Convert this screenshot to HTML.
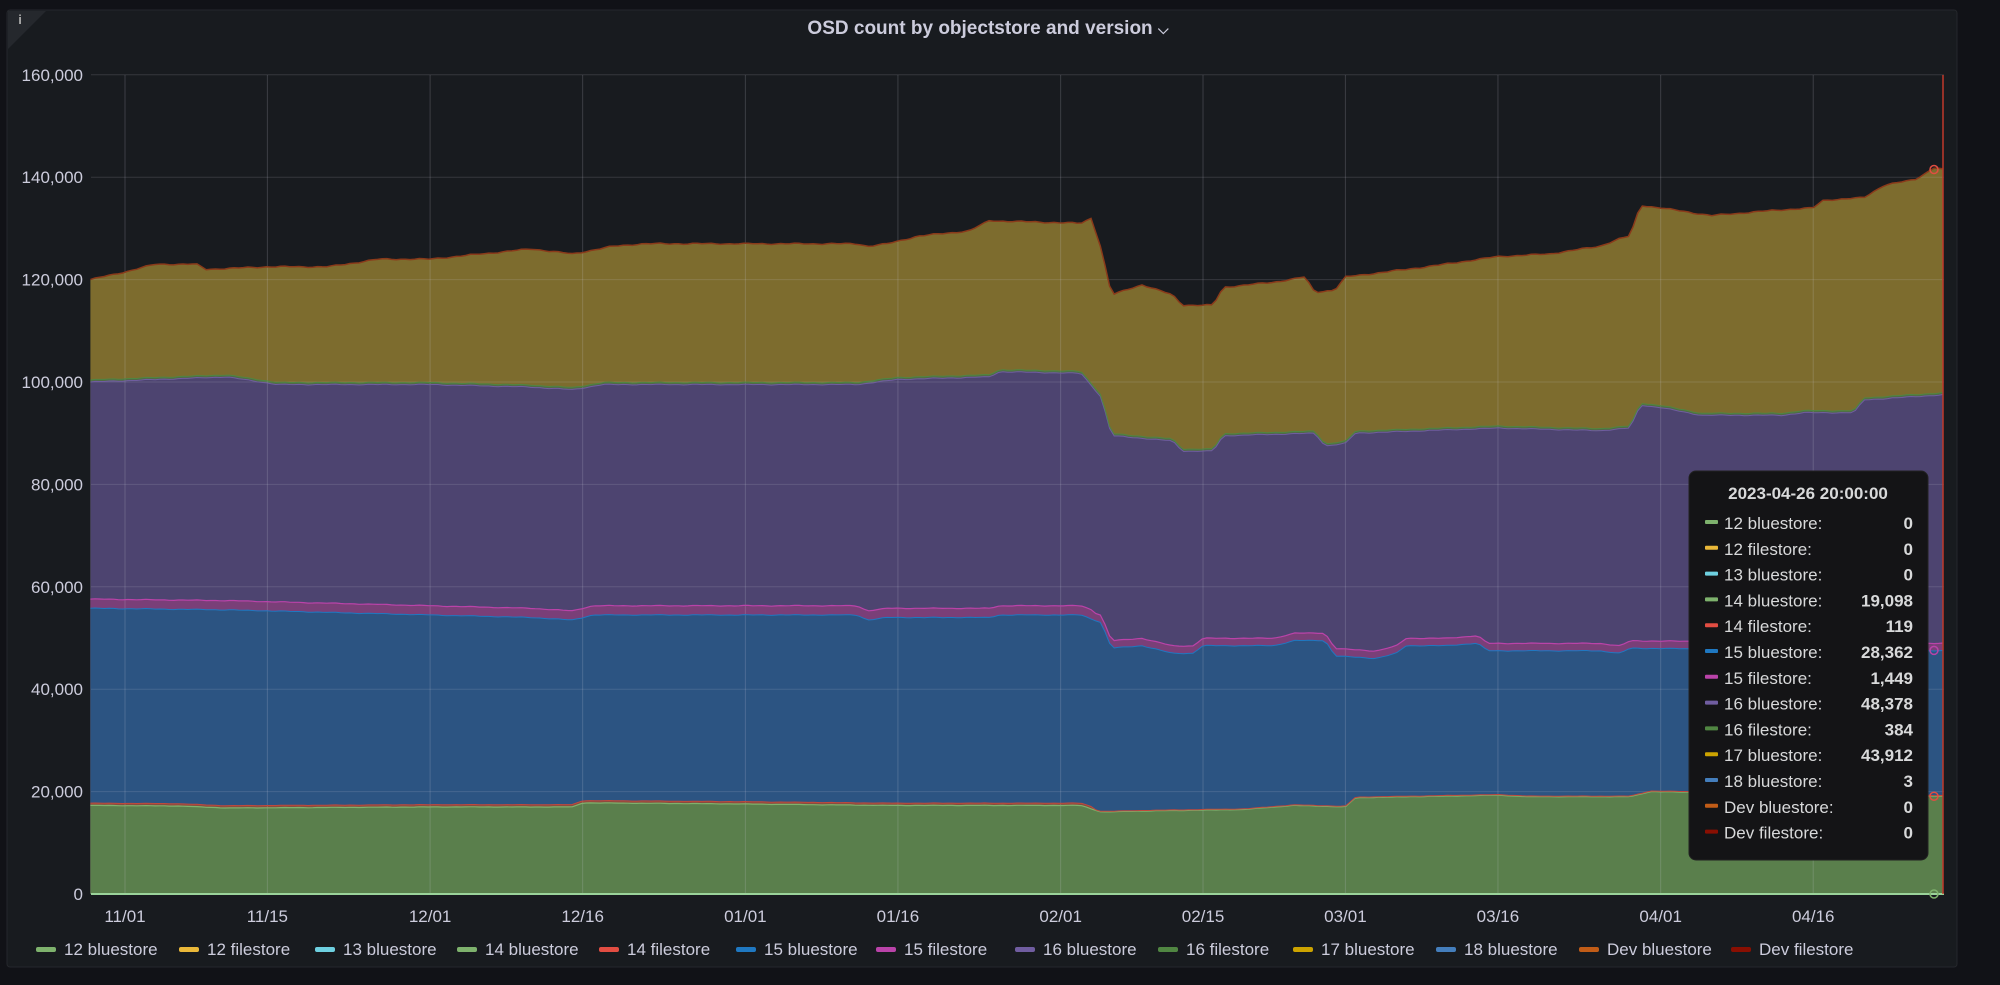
<!DOCTYPE html>
<html><head><meta charset="utf-8"><style>
body{margin:0;background:#111217;width:2000px;height:985px;overflow:hidden;font-family:"Liberation Sans",sans-serif}
svg{position:absolute;left:0;top:0}
</style></head><body>
<svg id="s" width="2000" height="985" xmlns="http://www.w3.org/2000/svg" font-family="Liberation Sans, sans-serif">
<rect x="7" y="10" width="1950" height="957" rx="3" fill="#181b1f" stroke="#25272c"/>
<path d="M8 11 L46 11 L8 49 Z" fill="#25282d"/>
<text x="20" y="24" fill="#aaa" font-size="13" font-weight="bold" text-anchor="middle">i</text>
<text x="988" y="34" fill="#ccccdc" font-size="19" font-weight="bold" text-anchor="middle">OSD count by objectstore and version <tspan font-size="14">⌵</tspan></text>
<g id="plot"></g>
</svg>
<script>
(function(){
var NS="http://www.w3.org/2000/svg";
var g=document.getElementById('plot');
function X(d){return 125+d*10.17;}
function Y(v){return 894-v/20000*102.4;}
function mk(t,a){var e=document.createElementNS(NS,t);for(var k in a)e.setAttribute(k,a[k]);g.appendChild(e);return e;}
function interp(kp,d){for(var i=0;i<kp.length-1;i++){if(d>=kp[i][0]&&d<=kp[i+1][0]){var t=(d-kp[i][0])/(kp[i+1][0]-kp[i][0]);return kp[i][1]+t*(kp[i+1][1]-kp[i][1]);}}return kp[kp.length-1][1];}
var D0=-3.4,D1=178.8,N=400;
var ds=[];for(var i=0;i<=N;i++)ds.push(D0+(D1-D0)*i/N);
function noise(i,a){return a*(Math.sin(i*1.7)*0.5+Math.sin(i*0.63)*0.5);}
var sTopKp=[[-3.4,120000],[0,121500],[3,123000],[7,123000],[8,122000],[14,122500],[20,122500],[25,124000],[30,124000],[35,125000],[40,126000],[44,125000],[48,126500],[51,127000],[61,127000],[72,127000],[73,126500],[75,127000],[78,128500],[83,129500],[85,131500],[94,131000],[95,132000],[96,126000],[97,117000],[100,119000],[103,117000],[104,115000],[107,115000],[108,118500],[113,119500],[116,120500],[117,117500],[119,118000],[120,120500],[128,122500],[135,124500],[140,125000],[145,126500],[147,128000],[148,128500],[149,134500],[151,134000],[156,132500],[162,133500],[166,134000],[167,135500],[171,136000],[173,138500],[176,139500],[178,142000],[178.8,141500]];
var b16=[[-3.4,100000],[10,101000],[15,99500],[30,99500],[40,99000],[44,98500],[47,99500],[72,99500],[76,100500],[85,101000],[86,102000],[94,101700],[96,97000],[97,89500],[103,88500],[104,86500],[107,86500],[108,89500],[117,90000],[118,87500],[120,88000],[121,90000],[135,91000],[145,90500],[148,91000],[149,95500],[151,95000],[155,93500],[163,93500],[165,94000],[170,94000],[171,96500],[178.8,97500]];
var b15=[[-3.4,55800],[10,55500],[20,55000],[30,54500],[40,54000],[44,53500],[46,54500],[72,54500],[73,53500],[75,54000],[85,54000],[86,54500],[94,54500],[96,53000],[97,48000],[100,48500],[103,47000],[105,47000],[106,48500],[113,48500],[115,49500],[118,49500],[119,46500],[123,46000],[125,47000],[126,48500],[130,48500],[133,49000],[134,47500],[145,47500],[147,47000],[148,48000],[178.8,47500]];
var b14=[[-3.4,17300],[5,17200],[10,16800],[30,17000],[44,17000],[45,17800],[60,17600],[75,17300],[94,17300],[96,16000],[100,16200],[110,16500],[115,17300],[120,17000],[121,18800],[135,19300],[138,19000],[148,19000],[150,20000],[178.8,19100]];
function series(kp,amp){return ds.map(function(d,i){return interp(kp,d)+noise(i,amp);});}
var sTop=series(sTopKp,150),s16=series(b16,100),s15=series(b15,80),s14=series(b14,40);
var s14f=s14.map(function(v,i){return v+(ds[i]<95?450:120);});
var s15f=s15.map(function(v,i){return v+(ds[i]<95?1800:1450);});
var s16f=s16.map(function(v){return v+400;});
function area(arr,fill){var p='M'+X(D0)+' '+Y(0);arr.forEach(function(v,i){p+=' L'+X(ds[i]).toFixed(1)+' '+Y(v).toFixed(1);});p+=' L'+X(D1)+' '+Y(0)+'Z';mk('path',{d:p,fill:fill});}
function line(arr,col,w){var p='';arr.forEach(function(v,i){p+=(i?' L':'M')+X(ds[i]).toFixed(1)+' '+Y(v).toFixed(1);});mk('path',{d:p,fill:'none',stroke:col,'stroke-width':w||1.5});}
area(sTop,'#7d6c2e');area(s16f,'#4f6a46');area(s16,'#4d4470');area(s15f,'#7a3f78');area(s15,'#2c5482');area(s14f,'#8a4b3e');area(s14,'#5a7f4c');
var labs=['0','20,000','40,000','60,000','80,000','100,000','120,000','140,000','160,000'];
for(var k=0;k<=8;k++){var y=Y(k*20000);mk('line',{x1:91,x2:1944,y1:y,y2:y,stroke:'rgba(204,204,220,0.16)'});
 var t=mk('text',{x:83,y:y+6,fill:'#ccccdc','font-size':17,'text-anchor':'end'});t.textContent=labs[k];}
var xl=[[0,'11/01'],[14,'11/15'],[30,'12/01'],[45,'12/16'],[61,'01/01'],[76,'01/16'],[92,'02/01'],[106,'02/15'],[120,'03/01'],[135,'03/16'],[151,'04/01'],[166,'04/16']];
xl.forEach(function(a){var x=X(a[0]);mk('line',{x1:x,x2:x,y1:75,y2:894,stroke:'rgba(204,204,220,0.2)'});var t=mk('text',{x:x,y:922,fill:'#ccccdc','font-size':17,'text-anchor':'middle'});t.textContent=a[1];});
line(s14,'#7eb26d',1.2);line(s14f,'#c0493c',1);line(s15,'#1f78c1',1);line(s15f,'#ba43a9',1.2);line(s16,'#705da0',1);line(s16f,'#508642',1);line(sTop,'#8a3a1a',1.5);
mk('line',{x1:91,x2:1944,y1:894,y2:894,stroke:'#9ad39a','stroke-width':2});
mk('line',{x1:1943,x2:1943,y1:75,y2:894,stroke:'#c0392b','stroke-width':1.5});
[[0,'#7eb26d'],[19098,'#e24d42'],[47579,'#ba43a9'],[141500,'#e24d42']].forEach(function(a){mk('circle',{cx:1934,cy:Y(a[0]),r:4,fill:'none',stroke:a[1],'stroke-width':1.5});});
var leg=[['12 bluestore','#7eb26d'],['12 filestore','#eab839'],['13 bluestore','#6ed0e0'],['14 bluestore','#7eb26d'],['14 filestore','#e24d42'],['15 bluestore','#1f78c1'],['15 filestore','#ba43a9'],['16 bluestore','#705da0'],['16 filestore','#508642'],['17 bluestore','#cca300'],['18 bluestore','#447ebc'],['Dev bluestore','#c15c17'],['Dev filestore','#890f02']];
var lx=[36,179,315,457,599,736,876,1015,1158,1293,1436,1579,1731];
leg.forEach(function(a,i){mk('rect',{x:lx[i],y:947,width:20,height:5,rx:2,fill:a[1]});var t=mk('text',{x:lx[i]+28,y:955,fill:'#ccccdc','font-size':17});t.textContent=a[0];});
mk('rect',{x:1689,y:471,width:239,height:389,rx:7,fill:'#141416',stroke:'#222'});
var tt=mk('text',{x:1808,y:499,fill:'#d8d9da','font-size':17,'font-weight':'bold','text-anchor':'middle'});tt.textContent='2023-04-26 20:00:00';
var vals=['0','0','0','19,098','119','28,362','1,449','48,378','384','43,912','3','0','0'];
leg.forEach(function(a,i){var y=523+i*25.8;mk('rect',{x:1705,y:y-3,width:13,height:4,rx:1,fill:a[1]});
 var p=mk('text',{x:1724,y:y+6,fill:'#d8d9da','font-size':17});p.textContent=a[0]+':';
 var b=mk('text',{x:1913,y:y+6,fill:'#d8d9da','font-size':17,'font-weight':'bold','text-anchor':'end'});b.textContent=vals[i];});
})();
</script>
</body></html>
